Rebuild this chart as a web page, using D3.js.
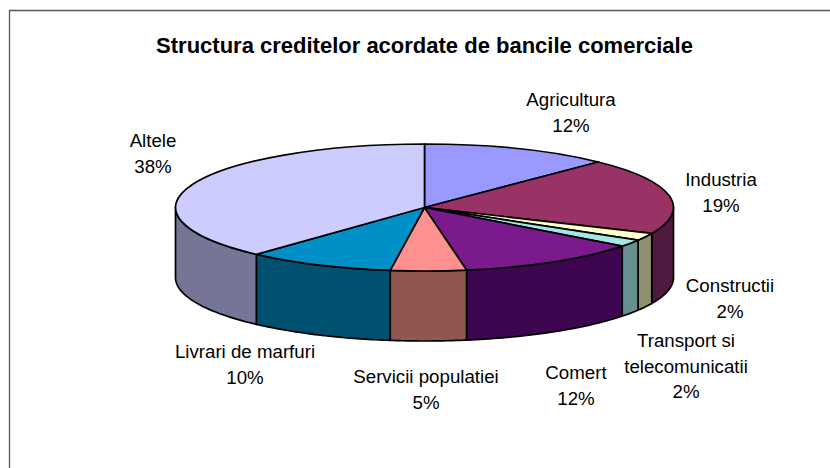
<!DOCTYPE html>
<html>
<head>
<meta charset="utf-8">
<script src="https://cdn.jsdelivr.net/npm/d3@7"></script>
<style>
  html, body { margin: 0; padding: 0; background: #fff; }
  text { font-family: "Liberation Sans", Arial, sans-serif; fill: #000; }
</style>
</head>
<body>
<svg width="830" height="468"></svg>
<script>
const title = 'Structura creditelor acordate de bancile comerciale';
const categories = ['Agricultura', 'Industria', 'Constructii', 'Transport si telecomunicatii', 'Comert', 'Servicii populatiei', 'Livrari de marfuri', 'Altele'];
const values = [12.3, 19.4, 1.9, 1.8, 11.9, 4.9, 9.6, 38.2];
const percentLabels = ['12%', '19%', '2%', '2%', '12%', '5%', '10%', '38%'];
const topColors = ['#9999ff', '#993366', '#ffffcc', '#a6e6e6', '#7a1a8c', '#ff9090', '#0090c8', '#ccccff'];
const sideColors = ['#555590', '#501a40', '#909070', '#669090', '#3e0650', '#905650', '#005070', '#757595'];
const labelLines = [['Agricultura'], ['Industria'], ['Constructii'], ['Transport si'], ['Comert'], ['Servicii populatiei'], ['Livrari de marfuri'], ['Altele']];
labelLines[3].push('telecomunicatii');
const labelPos = [[571, 106], [721, 186], [730, 292], [686, 347], [576, 379], [426, 383], [245, 358], [153, 147]];

const svg = d3.select('svg');
const cx = 424.5, cy = 207.5, rx = 249, ry = 63.5, depth = 70;

// frame only shows on the top and left
svg.append('path')
  .attr('d', 'M9.5,468V10.5H830')
  .attr('fill', 'none')
  .attr('stroke', '#555')
  .attr('stroke-width', 1.3);

svg.append('text')
  .attr('x', 424.5)
  .attr('y', 53)
  .attr('text-anchor', 'middle')
  .attr('font-size', 22)
  .attr('font-weight', 'bold')
  .text(title);

const pie = d3.pie().sort(null).value((d) => d);
const arcs = pie(values);

const px = (a) => cx + rx * Math.sin(a);
const py = (a) => cy - ry * Math.cos(a);
const line = d3.line();

// side walls, only the front half of the rim can be seen
const g = svg.append('g').attr('stroke', '#000').attr('stroke-width', 1.7).attr('stroke-linejoin', 'round');

arcs.forEach((d, i) => {
  const a0 = Math.max(d.startAngle, Math.PI / 2);
  const a1 = Math.min(d.endAngle, Math.PI * 1.5);
  if (a1 <= a0) return;
  const angles = d3.range(0, 41).map((k) => a0 + (a1 - a0) * k / 40);
  const upper = angles.map((a) => [px(a), py(a)]);
  const lower = angles.slice().reverse().map((a) => [px(a), py(a) + depth]);
  g.append('path')
    .attr('d', line(upper.concat(lower)) + 'Z')
    .attr('fill', sideColors[i]);
});

// top face: a circular arc squashed to the ellipse
const arc = d3.arc().innerRadius(0).outerRadius(rx);
g.append('g')
  .attr('transform', `translate(${cx},${cy}) scale(1,${ry / rx})`)
  .selectAll('path')
  .data(arcs)
  .enter()
  .append('path')
  .attr('d', arc)
  .attr('fill', (d, i) => topColors[i])
  .attr('vector-effect', 'non-scaling-stroke');

const labels = svg.selectAll('.label')
  .data(categories)
  .enter()
  .append('text')
  .attr('class', 'label')
  .attr('text-anchor', 'middle')
  .attr('font-size', 18.7);

labels.each(function (d, i) {
  const lines = labelLines[i].concat(percentLabels[i]);
  d3.select(this).selectAll('tspan')
    .data(lines)
    .enter()
    .append('tspan')
    .attr('x', labelPos[i][0])
    .attr('y', (t, k) => labelPos[i][1] + k * 25.5)
    .text((t) => t);
});
</script>
</body>
</html>
